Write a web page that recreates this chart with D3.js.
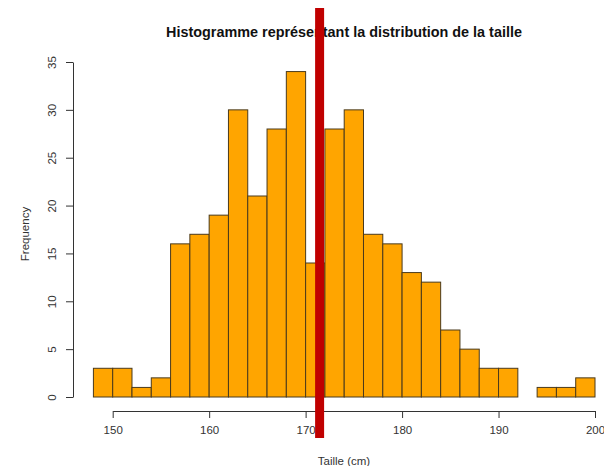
<!DOCTYPE html>
<html>
<head>
<meta charset="utf-8">
<script src="https://cdn.jsdelivr.net/npm/d3@7"></script>
<style>
  html, body { margin: 0; padding: 0; background: #fff; }
  svg { display: block; }
  text { font-family: "Liberation Sans", Arial, sans-serif; }
</style>
</head>
<body>
<svg id="chart" width="604" height="466"></svg>
<script>
// Data
const binStarts = [148,150,152,154,156,158,160,162,164,166,168,170,172,174,176,178,180,182,184,186,188,190,192,194,196,198];
const binWidth = 2;
const counts = [3,3,1,2,16,17,19,30,21,28,34,14,28,30,17,16,13,12,7,5,3,3,0,1,1,2];
const xTicks = [150,160,170,180,190,200];
const yTicks = [0,5,10,15,20,25,30,35];
const meanValue = 171.45;
const titleText = "Histogramme représentant la distribution de la taille";
const xLabel = "Taille (cm)";
const yLabel = "Frequency";

const svg = d3.select("#chart");

const x = d3.scaleLinear().domain([150, 200]).range([112.7, 595]);
const y = d3.scaleLinear().domain([0, 35]).range([397, 62]);

// Bars
svg.append("g").selectAll("rect")
  .data(binStarts.map((s, i) => ({ s, c: counts[i] })))
  .join("rect")
  .attr("x", d => x(d.s))
  .attr("width", d => x(d.s + binWidth) - x(d.s))
  .attr("y", d => y(d.c))
  .attr("height", d => y(0) - y(d.c))
  .attr("fill", "#FFA500")
  .attr("stroke", "#4a3a1c")
  .attr("stroke-width", 1);

// X axis
const xAxis = svg.append("g")
  .attr("transform", "translate(0,411)")
  .call(d3.axisBottom(x).tickValues(xTicks).tickSize(7).tickSizeOuter(0).tickPadding(8).tickFormat(d3.format("d")));
xAxis.select(".domain").attr("stroke", "#333");
xAxis.selectAll(".tick line").attr("stroke", "#333");
xAxis.selectAll("text").attr("fill", "#333").style("font-size", "11.5px").style("font-family", "'Liberation Sans', Arial, sans-serif");

// Y axis
const yAxis = svg.append("g")
  .attr("transform", "translate(73,0)")
  .call(d3.axisLeft(y).tickValues(yTicks).tickSize(7).tickSizeOuter(0).tickFormat(d3.format("d")));
yAxis.select(".domain").attr("stroke", "#333");
yAxis.selectAll(".tick line").attr("stroke", "#333");
yAxis.selectAll("text")
  .attr("transform", "rotate(-90)")
  .attr("x", 0)
  .attr("y", -17)
  .attr("dy", 0)
  .style("text-anchor", "middle")
  .attr("fill", "#333")
  .style("font-size", "11.5px")
  .style("font-family", "'Liberation Sans', Arial, sans-serif");

// Axis titles
svg.append("text")
  .attr("x", 344)
  .attr("y", 465)
  .attr("text-anchor", "middle")
  .attr("fill", "#333")
  .style("font-size", "11.5px")
  .text(xLabel);

svg.append("text")
  .attr("transform", "translate(29,234) rotate(-90)")
  .attr("text-anchor", "middle")
  .attr("fill", "#333")
  .style("font-size", "11.5px")
  .text(yLabel);

// Title
svg.append("text")
  .attr("x", 344)
  .attr("y", 37)
  .attr("text-anchor", "middle")
  .attr("fill", "#111")
  .style("font-size", "14.4px")
  .style("font-weight", "bold")
  .text(titleText);

// Mean line
svg.append("line")
  .attr("x1", x(meanValue))
  .attr("x2", x(meanValue))
  .attr("y1", 8)
  .attr("y2", 438)
  .attr("stroke", "#C00000")
  .attr("stroke-width", 9);
</script>
</body>
</html>
